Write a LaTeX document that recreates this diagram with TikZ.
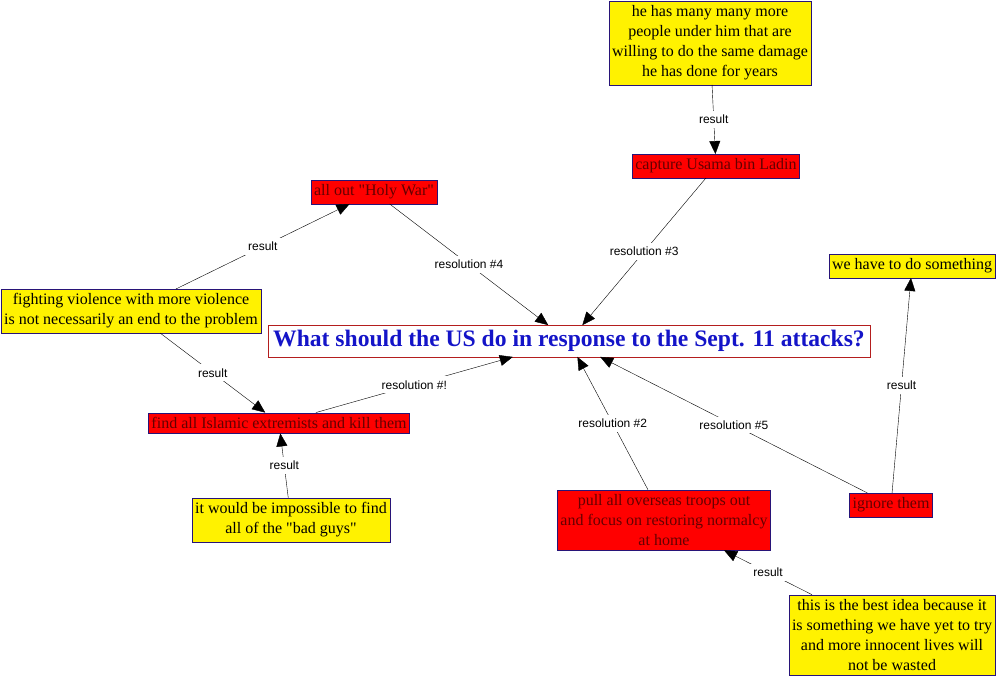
\documentclass[tikz,border=0pt]{standalone}
\usepackage{fontspec}
\setmainfont{Liberation Serif}
\setsansfont{Liberation Sans}
\usetikzlibrary{arrows.meta}
\definecolor{boxline}{RGB}{40,20,120}
\definecolor{redtext}{RGB}{100,0,0}
\definecolor{qline}{RGB}{180,30,30}
\definecolor{qtext}{RGB}{20,20,200}
\begin{document}
\begin{tikzpicture}[x=1pt, y=-1pt,
  ybox/.style={draw=boxline, fill=yellow, align=center, inner xsep=3pt, inner ysep=4.5pt,
               font=\fontsize{16}{20}\selectfont},
  rbox/.style={draw=boxline, fill=red, text=redtext, align=center, inner xsep=3pt,
               inner ysep=4.5pt, font=\fontsize{16}{20}\selectfont},
  qbox/.style={draw=qline, fill=white, text=qtext, inner sep=5pt,
               font=\fontsize{23.6}{26}\selectfont\bfseries},
  arr/.style={-{Triangle[length=13pt, width=11pt]}, thin},
  lbl/.style={fill=white, inner sep=4pt, font=\sffamily\fontsize{12}{14}\selectfont}
]
  \useasboundingbox (0,0) rectangle (999,680);

  % Central question
  \node[qbox] (question) at (569,341) {What should the US do in response to the Sept. 11 attacks?};

  % Resolutions
  \node[rbox] (capture) at (716,166) {capture Usama bin Ladin};
  \node[rbox] (holywar) at (374,192) {all out \textquotedbl Holy War\textquotedbl};
  \node[rbox] (findall) at (279,423) {find all Islamic extremists and kill them};
  \node[rbox] (pullout) at (664,520) {pull all overseas troops out\\and focus on restoring normalcy\\at home};
  \node[rbox] (ignore) at (891,505) {ignore them};

  % Reasons
  \node[ybox] (manymore) at (710,43) {he has many many more\\people under him that are\\willing to do the same damage\\he has done for years};
  \node[ybox] (fighting) at (131,311) {fighting violence with more violence\\is not necessarily an end to the problem};
  \node[ybox] (impossible) at (291,520) {it would be impossible to find\\all of the \textquotedbl bad guys\textquotedbl};
  \node[ybox] (something) at (912,266) {we have to do something};
  \node[ybox] (bestidea) at (892,635) {this is the best idea because it\\is something we have yet to try\\and more innocent lives will\\not be wasted};

  % Links
  \draw[arr] (capture) -- node[lbl] {resolution \#3} (question);
  \draw[arr] (holywar) -- node[lbl] {resolution \#4} (question);
  \draw[arr] (findall) -- node[lbl] {resolution \#!} (question);
  \draw[arr] (pullout) -- node[lbl] {resolution \#2} (question);
  \draw[arr] (ignore) -- node[lbl] {resolution \#5} (question);

  \draw[arr] (manymore) -- node[lbl] {result} (capture);
  \draw[arr] (fighting) -- node[lbl] {result} (holywar);
  \draw[arr] (fighting) -- node[lbl] {result} (findall);
  \draw[arr] (impossible) -- node[lbl] {result} (findall);
  \draw[arr] (ignore) -- node[lbl] {result} (something);
  \draw[arr] (bestidea) -- node[lbl] {result} (pullout);
\end{tikzpicture}
\end{document}
